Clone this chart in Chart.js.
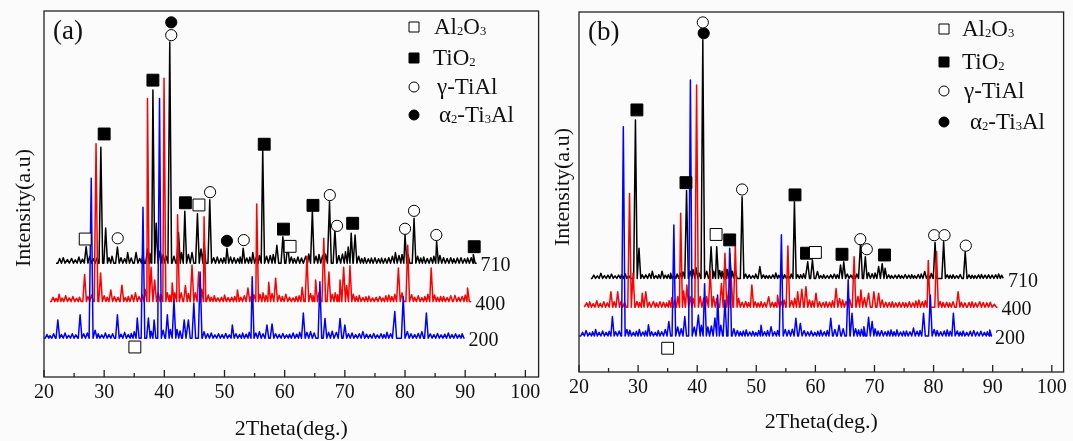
<!DOCTYPE html>
<html>
<head>
<meta charset="utf-8">
<script src="https://cdn.jsdelivr.net/npm/chart.js@4.4.0/dist/chart.umd.min.js"></script>
<style>
  body { margin: 0; background: #fbfbfb; }
  #wrap { position: relative; width: 1073px; height: 441px; }
  canvas { position: absolute; top: 0; }
  #chartA { left: 0; }
  #chartB { left: 548px; }
</style>
</head>
<body>
<div id="wrap">
  <canvas id="chartA" width="548" height="441"></canvas>
  <canvas id="chartB" width="525" height="441"></canvas>
</div>
<script>
const serif = '"Liberation Serif", "Times New Roman", serif';

const xTicks = [20, 30, 40, 50, 60, 70, 80, 90, 100];
const xMinorTicks = [25, 35, 45, 55, 65, 75, 85, 95];
const xTitle = '2Theta(deg.)';
const yTitle = 'Intensity(a.u)';
const seriesNames = ['710', '400', '200'];
const seriesColors = ['#000000', '#ff0000', '#0000ff'];

// phase names, [text, isSubscript]
const phaseNames = [
  [['Al', 0], ['2', 1], ['O', 0], ['3', 1]],
  [['TiO', 0], ['2', 1]],
  [['γ-TiAl', 0]],
  [['α', 0], ['2', 1], ['-Ti', 0], ['3', 1], ['Al', 0]]
];

// ---- panel (a) ----
const baseA = [31.1, 20.6, 10.6];
const rangeA = [[22.0, 91.9], [21.0, 91.0], [20.0, 89.9]];
// [2theta, intensity] of each reflection
const peaksA710 = [[22.6, 32.4], [23.2, 32.6], [23.9, 32.1], [24.6, 32.4], [25.2, 32.0], [25.8, 32.8], [26.4, 32.2],
  [27.0, 35.6], [27.6, 33.0], [28.2, 32.3], [28.8, 32.5], [29.45, 62.8], [30.25, 40.7], [30.8, 32.6], [31.3, 33.0],
  [32.2, 35.5], [32.8, 32.6], [33.4, 32.4], [33.9, 34.0], [34.5, 32.5], [35.3, 34.0], [35.9, 32.4], [36.4, 33.2],
  [37.2, 35.0], [37.6, 33.8], [38.1, 78.4], [38.65, 42.0], [39.3, 34.5], [39.8, 33.5], [40.3, 33.0], [40.9, 91.5],
  [41.6, 33.0], [42.35, 39.5], [42.85, 34.0], [43.4, 45.3], [44.0, 33.5], [44.6, 34.0], [45.5, 44.6], [46.1, 35.0],
  [46.6, 36.6], [47.55, 48.4], [48.2, 32.6], [48.8, 32.8], [49.4, 32.4], [49.9, 32.6], [50.4, 35.2], [51.0, 32.8],
  [51.6, 32.6], [52.2, 32.4], [52.6, 32.8], [53.1, 35.2], [53.7, 32.5], [54.2, 32.7], [54.7, 34.0], [55.3, 32.8],
  [55.8, 33.2], [56.35, 62.3], [57.0, 33.0], [57.6, 33.2], [58.1, 33.5], [58.7, 36.0], [59.7, 38.3], [60.5, 36.2],
  [61.1, 32.8], [61.6, 32.4], [62.2, 32.8], [62.8, 32.5], [63.5, 33.0], [64.0, 33.6], [64.6, 45.4], [65.2, 33.0],
  [65.7, 33.5], [66.3, 33.2], [66.8, 33.6], [67.45, 47.9], [68.35, 40.2], [69.0, 33.2], [69.6, 33.6], [70.1, 34.2],
  [70.55, 35.5], [71.05, 39.3], [71.7, 38.8], [72.3, 33.0], [72.8, 32.4], [73.3, 32.6], [73.9, 32.3], [74.4, 32.5],
  [75.0, 32.6], [75.6, 32.3], [76.1, 32.5], [76.7, 32.4], [77.3, 32.6], [77.9, 33.0], [78.4, 34.0], [79.0, 33.2],
  [79.5, 33.5], [80.0, 38.8], [80.5, 33.5], [81.5, 43.4], [82.1, 33.0], [82.6, 32.5], [83.1, 32.8], [83.7, 32.4],
  [84.3, 32.6], [84.8, 33.0], [85.25, 37.0], [85.8, 33.2], [86.4, 32.6], [87.0, 32.4], [87.6, 32.6], [88.1, 32.3],
  [88.7, 32.5], [89.3, 32.6], [89.9, 32.3], [90.4, 32.5], [91.0, 32.6], [91.35, 33.5]];
const peaksA400 = [[21.5, 21.8], [22.0, 21.5], [22.5, 22.6], [23.0, 21.6], [23.6, 22.2], [24.2, 21.6], [24.8, 22.0],
  [25.4, 21.5], [25.9, 21.8], [26.75, 28.0], [27.3, 22.0], [27.9, 22.4], [28.65, 63.7], [29.4, 28.4], [30.0, 22.2],
  [30.5, 21.8], [31.1, 23.8], [31.7, 22.0], [32.3, 21.8], [32.95, 25.1], [33.5, 21.7], [34.0, 22.0], [34.6, 22.4],
  [35.2, 23.0], [35.8, 22.0], [36.3, 22.5], [36.8, 24.0], [37.2, 76.1], [37.8, 30.0], [38.4, 26.5], [39.0, 23.0],
  [39.45, 22.6], [39.95, 81.6], [40.5, 23.0], [40.9, 22.4], [41.3, 25.7], [41.75, 23.0], [42.2, 44.3], [42.8, 23.0],
  [43.5, 25.0], [44.0, 22.8], [44.6, 30.6], [45.15, 23.0], [45.7, 28.7], [46.2, 24.0], [46.6, 43.8], [47.3, 22.4],
  [47.8, 21.8], [48.3, 22.2], [48.9, 21.6], [49.5, 21.8], [50.0, 22.4], [50.6, 21.7], [51.2, 21.8], [51.7, 22.0],
  [52.15, 23.8], [52.7, 21.8], [53.3, 22.2], [53.9, 24.3], [54.4, 22.0], [54.9, 22.5], [55.35, 47.3], [55.9, 22.6],
  [56.4, 23.0], [56.9, 22.3], [57.35, 25.9], [57.9, 22.8], [58.5, 27.0], [59.1, 22.3], [59.6, 22.0], [60.2, 22.6],
  [60.8, 21.8], [61.4, 21.6], [61.9, 22.0], [62.4, 22.2], [62.9, 24.5], [63.7, 33.0], [64.3, 22.8], [64.7, 22.3],
  [65.15, 26.5], [65.7, 23.0], [66.5, 37.9], [67.35, 28.7], [67.9, 22.6], [68.4, 23.0], [68.8, 22.5], [69.2, 26.5],
  [69.8, 30.0], [70.3, 25.0], [70.85, 30.4], [71.4, 22.6], [71.9, 22.0], [72.4, 22.3], [73.0, 21.7], [73.5, 21.9],
  [74.0, 22.1], [74.6, 21.6], [75.2, 21.8], [75.8, 22.0], [76.3, 21.6], [76.8, 22.2], [77.3, 22.4], [77.8, 22.0],
  [78.3, 22.6], [78.9, 29.8], [79.5, 23.0], [80.45, 36.0], [81.1, 22.5], [81.6, 21.8], [82.2, 22.2], [82.8, 21.7],
  [83.3, 22.0], [83.8, 22.6], [84.35, 29.8], [84.9, 22.4], [85.4, 21.8], [85.9, 22.0], [86.4, 22.0], [87.0, 21.7],
  [87.6, 22.2], [88.3, 22.3], [88.9, 21.8], [89.5, 22.0], [90.0, 22.4], [90.4, 24.3]];
const peaksA200 = [[20.5, 11.6], [21.0, 11.3], [21.6, 11.8], [22.3, 15.6], [22.9, 11.6], [23.5, 12.0], [24.1, 11.4],
  [24.7, 11.8], [25.3, 11.5], [26.0, 17.0], [26.6, 11.8], [27.2, 12.0], [27.85, 54.3], [28.5, 12.8], [29.0, 11.8],
  [29.6, 11.5], [30.2, 12.0], [30.8, 11.6], [31.4, 11.8], [32.2, 17.0], [32.8, 11.7], [33.4, 12.2], [34.0, 11.6],
  [34.5, 11.9], [35.0, 12.4], [35.5, 16.1], [36.45, 46.4], [37.35, 16.1], [37.8, 12.5], [38.3, 15.6], [39.2, 76.1],
  [39.8, 12.8], [40.5, 17.0], [41.0, 13.0], [41.6, 21.0], [42.1, 13.0], [42.6, 12.6], [43.3, 15.6], [44.0, 15.6],
  [44.9, 20.2], [45.95, 28.7], [46.6, 12.4], [47.2, 11.8], [47.8, 12.0], [48.4, 11.5], [49.0, 11.8], [49.6, 11.6],
  [50.2, 11.9], [50.8, 11.5], [51.3, 14.2], [51.9, 11.8], [52.5, 11.6], [53.0, 12.0], [53.6, 11.7], [54.1, 12.2],
  [54.6, 27.4], [55.2, 12.0], [55.8, 12.4], [56.4, 11.8], [57.05, 14.2], [57.9, 14.5], [58.5, 11.8], [59.1, 11.6],
  [59.7, 11.9], [60.3, 11.5], [60.8, 11.7], [61.4, 12.0], [62.0, 11.7], [62.5, 12.2], [63.1, 17.5], [63.7, 12.2],
  [64.3, 12.4], [64.9, 12.0], [65.85, 26.0], [66.7, 16.0], [67.3, 12.2], [67.9, 12.5], [68.6, 12.2], [69.2, 16.0],
  [70.0, 14.2], [70.6, 11.8], [71.2, 12.0], [71.8, 11.6], [72.4, 11.8], [73.0, 12.4], [73.6, 11.7], [74.2, 11.6],
  [74.8, 11.9], [75.4, 11.5], [76.0, 11.8], [76.5, 11.6], [77.0, 12.2], [77.6, 11.8], [78.3, 17.9], [79.7, 21.9],
  [80.4, 12.4], [81.0, 11.8], [81.6, 11.6], [82.2, 11.9], [82.8, 12.4], [83.55, 17.5], [84.2, 11.8], [84.8, 11.6],
  [85.4, 11.9], [86.0, 11.5], [86.6, 11.7], [87.2, 12.0], [87.8, 11.6], [88.4, 11.8], [89.0, 11.5], [89.5, 11.8]];
const aluminaA = [[26.85, 37.7], [45.75, 47.0], [60.9, 35.7], [35.1, 8.2]];
const titaniaA = [[30.0, 66.4], [38.1, 81.1], [43.5, 47.6], [56.6, 63.6], [59.8, 40.4], [64.7, 46.9], [71.3, 42.0], [91.5, 35.6]];
const gammaA = [[41.15, 93.4], [32.25, 37.9], [47.6, 50.5], [53.2, 37.4], [67.5, 49.7], [68.7, 41.3], [80.0, 40.5], [81.5, 45.4], [85.2, 38.8]];
const alphaA = [[41.15, 96.9], [50.4, 37.2]];

// ---- panel (b) ----
const baseB = [26.0, 18.0, 10.0];
const rangeB = [[22.0, 91.9], [20.9, 90.8], [20.0, 89.7]];
const peaksB710 = [[22.5, 26.9], [23.1, 26.7], [23.7, 27.4], [24.3, 26.8], [24.9, 26.9], [25.5, 27.2], [26.1, 26.7],
  [26.7, 26.9], [27.2, 27.0], [27.8, 27.3], [28.4, 26.8], [29.55, 70.0], [30.15, 34.4], [30.7, 27.0], [31.3, 27.0],
  [31.9, 27.3], [32.4, 28.0], [33.0, 26.8], [33.5, 27.0], [34.05, 28.0], [34.6, 26.9], [35.1, 27.0], [35.5, 27.4],
  [36.1, 26.9], [36.6, 27.2], [37.1, 27.5], [37.6, 27.8], [38.2, 50.4], [38.8, 28.0], [39.3, 28.5], [39.8, 29.0],
  [40.3, 27.5], [40.95, 92.3], [41.6, 28.0], [42.35, 34.8], [42.8, 28.0], [43.3, 34.8], [43.8, 28.2], [44.2, 28.0],
  [44.7, 30.0], [45.1, 28.5], [45.5, 33.0], [45.95, 28.0], [46.45, 28.3], [47.6, 48.7], [48.2, 27.2], [48.8, 27.0],
  [49.4, 26.8], [49.9, 27.2], [50.6, 29.3], [51.2, 27.0], [51.7, 26.8], [52.2, 26.8], [52.8, 27.0], [53.3, 27.5],
  [53.8, 26.9], [54.3, 27.4], [54.8, 27.0], [55.4, 26.8], [55.9, 27.2], [56.45, 47.3], [57.0, 27.0], [57.5, 27.0],
  [58.0, 27.3], [58.7, 30.6], [59.5, 31.1], [60.35, 27.9], [60.9, 26.8], [61.4, 27.0], [62.0, 26.8], [62.6, 27.0],
  [63.2, 27.2], [63.7, 27.0], [64.25, 29.7], [64.8, 30.6], [65.4, 27.2], [66.0, 26.9], [66.5, 27.4], [67.0, 27.2],
  [67.65, 36.2], [68.45, 32.0], [69.0, 27.6], [69.6, 27.3], [70.1, 27.5], [70.7, 29.3], [71.3, 30.1], [71.8, 28.8],
  [72.4, 27.0], [72.9, 26.8], [73.5, 26.9], [74.1, 27.0], [74.6, 26.8], [75.2, 27.1], [75.8, 26.9], [76.3, 27.0],
  [76.8, 26.8], [77.4, 27.1], [77.9, 27.2], [78.5, 27.9], [79.1, 27.0], [79.6, 27.4], [80.25, 36.0], [81.7, 36.2],
  [82.3, 27.0], [82.8, 26.9], [83.3, 27.0], [83.9, 26.8], [84.5, 27.1], [85.35, 33.4], [86.0, 27.0], [86.5, 26.9],
  [87.0, 26.8], [87.6, 27.0], [88.1, 27.1], [88.7, 26.9], [89.3, 27.0], [89.9, 26.9], [90.5, 27.0], [91.0, 27.2],
  [91.5, 26.9]];
const peaksB400 = [[21.3, 19.2], [21.8, 19.5], [22.4, 19.0], [23.0, 19.8], [23.6, 19.1], [24.2, 19.5], [24.8, 19.2],
  [25.4, 22.3], [25.95, 19.5], [26.55, 22.3], [27.1, 19.6], [27.7, 19.3], [28.55, 49.6], [29.15, 27.4], [29.8, 19.6],
  [30.25, 19.3], [30.7, 21.9], [31.3, 22.3], [31.9, 19.4], [32.6, 19.6], [33.1, 19.2], [33.7, 19.5], [34.3, 19.4],
  [34.8, 19.2], [35.25, 19.8], [35.7, 20.6], [36.2, 20.0], [36.7, 21.0], [37.2, 44.1], [37.7, 22.5], [38.25, 24.2],
  [38.8, 21.0], [39.3, 20.5], [39.9, 79.7], [40.5, 21.0], [41.1, 20.5], [41.6, 21.0], [42.2, 27.9], [42.75, 21.0],
  [43.3, 20.4], [44.1, 24.6], [44.7, 33.0], [45.3, 22.5], [45.75, 26.0], [46.45, 35.3], [47.0, 20.5], [47.6, 19.4],
  [48.2, 19.6], [48.7, 19.3], [49.25, 24.2], [49.8, 19.5], [50.3, 19.2], [50.8, 19.5], [51.4, 19.3], [52.1, 20.9],
  [52.7, 19.4], [53.2, 19.3], [53.6, 21.3], [54.2, 19.6], [54.7, 20.0], [55.35, 35.0], [56.0, 19.8], [56.5, 20.5],
  [57.0, 22.3], [57.7, 23.0], [58.4, 23.7], [59.0, 20.0], [59.5, 19.7], [60.1, 21.9], [60.7, 19.5], [61.3, 19.3],
  [61.8, 19.5], [62.4, 19.4], [62.9, 19.8], [63.5, 23.2], [64.1, 20.4], [64.6, 20.0], [65.2, 19.6], [65.8, 20.2],
  [66.55, 32.0], [67.2, 21.0], [67.7, 22.8], [68.3, 20.6], [69.0, 21.9], [69.9, 22.3], [70.7, 21.9], [71.3, 20.0],
  [71.9, 19.4], [72.5, 19.3], [73.0, 19.5], [73.6, 19.2], [74.2, 19.4], [74.8, 19.3], [75.3, 19.2], [75.9, 19.5],
  [76.5, 19.2], [77.0, 19.7], [77.5, 20.0], [78.1, 19.5], [78.6, 19.8], [79.1, 31.0], [80.5, 33.5], [81.1, 19.6],
  [81.6, 19.3], [82.2, 19.4], [82.7, 19.2], [83.3, 19.5], [84.15, 22.3], [84.7, 19.4], [85.3, 19.2], [86.0, 19.3],
  [86.5, 19.5], [87.1, 19.2], [87.8, 19.5], [88.4, 19.3], [89.0, 19.2], [89.6, 19.4], [90.3, 18.8]];
const peaksB200 = [[20.6, 11.0], [21.2, 11.5], [21.8, 10.9], [22.3, 11.2], [22.8, 11.8], [23.4, 11.0], [24.0, 11.4],
  [24.6, 11.0], [25.1, 11.3], [25.65, 15.4], [26.2, 11.2], [26.8, 11.4], [27.5, 68.1], [28.1, 11.8], [28.6, 11.6],
  [29.2, 11.0], [29.7, 11.3], [30.2, 11.8], [30.8, 11.1], [31.25, 11.4], [31.75, 13.1], [32.3, 11.2], [32.9, 11.0],
  [33.4, 11.5], [34.0, 11.2], [34.6, 11.8], [35.2, 14.0], [36.05, 40.8], [36.7, 12.5], [37.3, 12.0], [37.9, 15.4],
  [38.85, 81.1], [39.5, 12.5], [40.2, 15.8], [40.7, 13.0], [41.25, 24.5], [41.8, 12.5], [42.4, 12.8], [43.0, 15.0],
  [43.45, 21.4], [44.0, 13.0], [44.7, 20.0], [45.5, 34.4], [46.2, 12.0], [46.8, 11.5], [47.3, 11.2], [47.8, 11.4],
  [48.3, 11.7], [48.9, 11.1], [49.4, 11.3], [49.9, 11.0], [50.4, 11.5], [50.8, 13.0], [51.4, 11.2], [51.9, 11.5],
  [52.5, 12.6], [53.1, 11.2], [53.6, 11.5], [54.25, 38.1], [54.9, 11.8], [55.5, 11.6], [56.1, 11.9], [56.7, 14.9],
  [57.45, 13.5], [58.1, 11.5], [58.7, 11.2], [59.3, 11.4], [59.9, 11.0], [60.4, 11.3], [60.9, 11.6], [61.5, 11.2],
  [62.0, 11.5], [62.6, 14.9], [63.3, 11.8], [64.0, 13.0], [64.7, 12.0], [65.55, 25.6], [66.2, 16.3], [66.8, 12.0],
  [67.3, 11.7], [67.8, 11.9], [68.2, 12.6], [69.0, 15.2], [69.6, 14.0], [70.1, 12.0], [70.6, 11.4], [71.2, 11.5],
  [71.8, 11.2], [72.3, 11.4], [72.8, 11.7], [73.3, 11.2], [73.8, 11.7], [74.4, 11.1], [74.9, 11.3], [75.4, 11.4],
  [76.0, 11.2], [76.6, 12.2], [77.2, 11.3], [77.7, 11.5], [78.3, 16.3], [79.45, 21.4], [80.1, 11.8], [80.6, 11.5],
  [81.2, 11.2], [81.8, 11.4], [82.3, 11.7], [82.8, 11.3], [83.35, 16.3], [84.0, 11.4], [84.5, 11.1], [85.0, 11.4],
  [85.6, 11.0], [86.2, 11.3], [86.8, 11.5], [87.4, 11.1], [88.0, 11.3], [88.6, 11.0], [89.1, 11.2], [89.5, 11.7]];
const aluminaB = [[43.2, 38.2], [60.0, 33.2], [35.0, 6.6]];
const titaniaB = [[29.8, 72.8], [38.1, 52.6], [45.5, 36.7], [56.55, 49.2], [58.5, 33.0], [64.5, 32.7], [71.7, 32.5]];
const gammaB = [[40.95, 97.1], [47.6, 50.7], [67.6, 36.9], [68.7, 34.1], [80.1, 38.0], [81.85, 38.0], [85.45, 35.1]];
const alphaB = [[41.1, 94.1]];

// baseline -> peak top -> baseline for every reflection
function tracePattern(base, range, peaks) {
  const pts = [{x: range[0], y: base}];
  peaks.forEach(([pos, top]) => {
    const l = pos - 0.3;
    if (l > pts[pts.length - 1].x) pts.push({x: l, y: base});
    pts.push({x: pos, y: top});
    pts.push({x: pos + 0.3, y: base});
  });
  pts.push({x: range[1], y: base});
  return pts;
}

const markerStyles = [
  {pointStyle: 'rect', fill: '#ffffff', radius: 8.4},
  {pointStyle: 'rect', fill: '#000000', radius: 8.4},
  {pointStyle: 'circle', fill: '#ffffff', radius: 5.6},
  {pointStyle: 'circle', fill: '#000000', radius: 5.6}
];

function drawMarker(ctx, style, x, y) {
  ctx.beginPath();
  if (style.pointStyle === 'rect') {
    ctx.rect(x - 5, y - 5, 10, 10);
  } else {
    ctx.arc(x, y, 5, 0, Math.PI * 2);
  }
  ctx.fillStyle = style.fill;
  ctx.fill();
  ctx.lineWidth = 1;
  ctx.strokeStyle = '#000';
  ctx.stroke();
}

function drawRich(ctx, parts, x, y, size) {
  parts.forEach(([text, sub]) => {
    ctx.font = (sub ? size * 0.55 : size) + 'px ' + serif;
    ctx.fillText(text, x, sub ? y + 1 : y);
    x += ctx.measureText(text).width;
  });
}

function framePlugin(p) {
  return {
    id: 'xrdFrame',
    afterDraw(chart) {
      const {ctx, chartArea: {left, top, right, bottom}, scales: {x, y}} = chart;
      ctx.save();
      ctx.strokeStyle = '#222';
      ctx.lineWidth = 1.3;
      ctx.strokeRect(left, top, right - left, bottom - top);
      ctx.beginPath();
      xTicks.forEach(v => {
        const px = x.getPixelForValue(v);
        ctx.moveTo(px, bottom);
        ctx.lineTo(px, bottom - 7);
      });
      xMinorTicks.forEach(v => {
        const px = x.getPixelForValue(v);
        ctx.moveTo(px, bottom);
        ctx.lineTo(px, bottom - 4);
      });
      ctx.stroke();

      ctx.fillStyle = '#111';
      ctx.textAlign = 'center';
      ctx.textBaseline = 'middle';
      ctx.font = '20px ' + serif;
      xTicks.forEach(v => ctx.fillText(String(v), x.getPixelForValue(v), bottom + 16));
      ctx.font = '22px ' + serif;
      ctx.fillText(xTitle, (left + right) / 2, bottom + p.titleGap);

      ctx.save();
      ctx.translate(p.yTitle[0], p.yTitle[1]);
      ctx.rotate(-Math.PI / 2);
      ctx.fillText(yTitle, 0, 0);
      ctx.restore();

      ctx.textAlign = 'left';
      ctx.font = '27px ' + serif;
      ctx.fillText(p.tag, left + 9, top + 21);

      // sample labels at the end of each pattern
      ctx.font = '20px ' + serif;
      seriesNames.forEach((name, i) => {
        ctx.fillText(name, x.getPixelForValue(p.ranges[i][1]) + 4, y.getPixelForValue(p.bases[i]) + 3);
      });

      // phase key
      ctx.textBaseline = 'alphabetic';
      phaseNames.forEach((parts, i) => {
        const ry = p.legend.ys[i];
        drawMarker(ctx, markerStyles[i], p.legend.x, ry);
        ctx.fillStyle = '#111';
        drawRich(ctx, parts, p.legend.textX[i], ry + 7, p.legend.font);
      });
      ctx.restore();
    }
  };
}

function makePanel(p) {
  const datasets = [];
  p.markers.forEach((pts, i) => {
    const s = markerStyles[i];
    datasets.push({
      data: pts.map(([x, y]) => ({x, y})),
      showLine: false,
      pointStyle: s.pointStyle,
      pointRadius: s.radius,
      backgroundColor: s.fill,
      borderColor: '#000',
      borderWidth: 1
    });
  });
  // blue over red over black
  [2, 1, 0].forEach(i => {
    datasets.push({
      data: tracePattern(p.bases[i], p.ranges[i], p.peaks[i]),
      showLine: true,
      pointRadius: 0,
      borderColor: seriesColors[i],
      borderWidth: 1.5,
      borderJoinStyle: 'round',
      tension: 0
    });
  });
  return new Chart(document.getElementById(p.canvas), {
    type: 'scatter',
    data: {datasets},
    options: {
      responsive: false,
      animation: false,
      layout: {padding: p.padding},
      plugins: {legend: {display: false}, tooltip: {enabled: false}},
      scales: {
        x: {type: 'linear', min: 20, max: p.xMax, display: false},
        y: {type: 'linear', min: 0, max: 100, display: false}
      }
    },
    plugins: [framePlugin(p)]
  });
}

makePanel({
  canvas: 'chartA', tag: '(a)', xMax: 102.2,
  padding: {left: 44, top: 11, right: 7, bottom: 64},
  bases: baseA, ranges: rangeA,
  peaks: [peaksA710, peaksA400, peaksA200],
  markers: [aluminaA, titaniaA, gammaA, alphaA],
  titleGap: 52, yTitle: [24, 208],
  legend: {x: 414, ys: [27, 58, 87, 115], textX: [434, 433, 437, 439], font: 23}
});

makePanel({
  canvas: 'chartB', tag: '(b)', xMax: 102,
  padding: {left: 31, top: 12, right: 5, bottom: 69},
  bases: baseB, ranges: rangeB,
  peaks: [peaksB710, peaksB400, peaksB200],
  markers: [aluminaB, titaniaB, gammaB, alphaB],
  titleGap: 50, yTitle: [15, 187],
  legend: {x: 396, ys: [29, 62, 91, 122], textX: [414, 414, 416, 422], font: 23}
});
</script>
</body>
</html>
